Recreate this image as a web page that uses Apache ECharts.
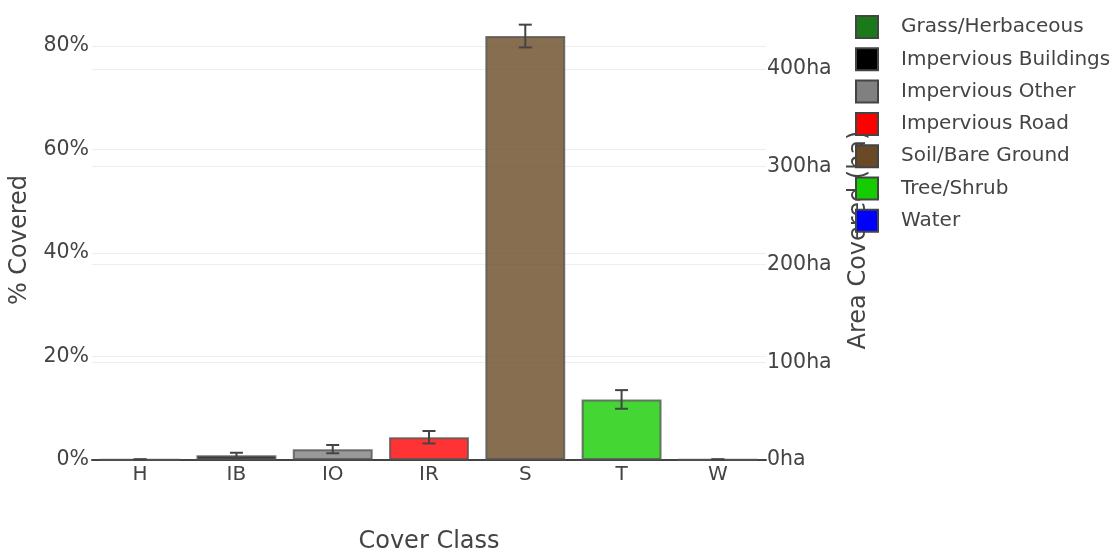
<!DOCTYPE html>
<html>
<head>
<meta charset="utf-8">
<script src="https://cdn.jsdelivr.net/npm/echarts@6/dist/echarts.min.js"></script>
<style>
  html, body { margin: 0; padding: 0; background: #fff; }
  #chart { width: 1118px; height: 551px; }
</style>
</head>
<body>
<div id="chart"></div>
<script>
const categories = ['H', 'IB', 'IO', 'IR', 'S', 'T', 'W'];
const classNames = ['Grass/Herbaceous', 'Impervious Buildings', 'Impervious Other', 'Impervious Road', 'Soil/Bare Ground', 'Tree/Shrub', 'Water'];
const classColors = ['#1a7a1a', '#000000', '#808080', '#ff0000', '#6a4a26', '#15cc00', '#0000ff'];
const percentCovered = [0.1, 0.9, 2.1, 4.4, 81.9, 11.7, 0.1];
const percentError = [0.05, 0.5, 0.8, 1.2, 2.2, 1.8, 0.05];
const percentTicks = [0, 20, 40, 60, 80];
const hectareTicks = [0, 100, 200, 300, 400];

const font = 'DejaVu Sans';
const textColor = '#444';

const chart = echarts.init(document.getElementById('chart'));

// one bar series per class so the legend lists every class
const barSeries = classNames.map((name, i) => ({
  name: name,
  type: 'bar',
  stack: 'cover',
  barCategoryGap: '17%',
  data: categories.map((c, j) => (j === i ? percentCovered[i] : '-')),
  itemStyle: {
    color: classColors[i],
    opacity: 0.8,
    borderColor: '#555',
    borderWidth: 2,
  },
}));

const errorData = categories.map((c, i) => [i, percentCovered[i] - percentError[i], percentCovered[i] + percentError[i]]);

const errorSeries = {
  type: 'custom',
  name: 'error',
  z: 10,
  renderItem: (params, api) => {
    const lo = api.coord([api.value(0), api.value(1)]);
    const hi = api.coord([api.value(0), api.value(2)]);
    const half = 6.5;
    const style = { stroke: '#444', lineWidth: 2 };
    return {
      type: 'group',
      children: [
        { type: 'line', shape: { x1: lo[0], y1: lo[1], x2: hi[0], y2: hi[1] }, style: style },
        { type: 'line', shape: { x1: hi[0] - half, y1: hi[1], x2: hi[0] + half, y2: hi[1] }, style: style },
        { type: 'line', shape: { x1: lo[0] - half, y1: lo[1], x2: lo[0] + half, y2: lo[1] }, style: style },
      ],
    };
  },
  encode: { x: 0, y: [1, 2] },
  data: errorData,
};

chart.setOption({
  animation: false,
  textStyle: { fontFamily: font },
  grid: { left: 92, width: 674, top: 20, height: 440, outerBoundsMode: 'none' },
  legend: {
    data: classNames,
    orient: 'vertical',
    left: 855,
    top: 15,
    padding: 0,
    itemWidth: 22,
    itemHeight: 22,
    itemGap: 8.3,
    icon: 'rect',
    itemStyle: { opacity: 1, borderColor: '#444', borderWidth: 2 },
    textStyle: { fontFamily: font, fontSize: 20, lineHeight: 22, color: textColor, padding: [0, 0, 0, 18] },
  },
  xAxis: {
    type: 'category',
    data: categories,
    name: 'Cover Class',
    nameLocation: 'middle',
    nameGap: 70,
    nameTextStyle: { fontFamily: font, fontSize: 24, color: textColor },
    axisLine: { lineStyle: { color: '#444', width: 2 } },
    axisTick: { show: false },
    axisLabel: { fontFamily: font, fontSize: 20, color: textColor, margin: 5 },
  },
  yAxis: [
    {
      type: 'value',
      min: 0,
      max: 85,
      interval: 20,
      name: '% Covered',
      nameLocation: 'middle',
      nameGap: 60,
      nameTextStyle: { fontFamily: font, fontSize: 24, color: textColor },
      axisLine: { show: false },
      axisTick: { show: false },
      axisLabel: {
        fontFamily: font, fontSize: 20.5, color: textColor, margin: 3, showMaxLabel: false,
        formatter: (v) => (percentTicks.includes(v) ? v + '%' : ''),
      },
      splitLine: { showMaxLine: false, lineStyle: { color: '#eee', width: 1 } },
    },
    {
      type: 'value',
      min: 0,
      max: 450,
      interval: 100,
      name: 'Area Covered (ha)',
      nameLocation: 'middle',
      nameGap: 81,
      nameRotate: 90,
      nameTextStyle: { fontFamily: font, fontSize: 24, color: textColor },
      axisLine: { show: false },
      axisTick: { show: false },
      axisLabel: {
        fontFamily: font, fontSize: 20.5, color: textColor, margin: 1, showMaxLabel: false,
        formatter: (v) => (hectareTicks.includes(v) ? v + 'ha' : ''),
      },
      splitLine: { showMaxLine: false, lineStyle: { color: '#eee', width: 1 } },
    },
  ],
  series: [...barSeries, errorSeries],
});
</script>
</body>
</html>
